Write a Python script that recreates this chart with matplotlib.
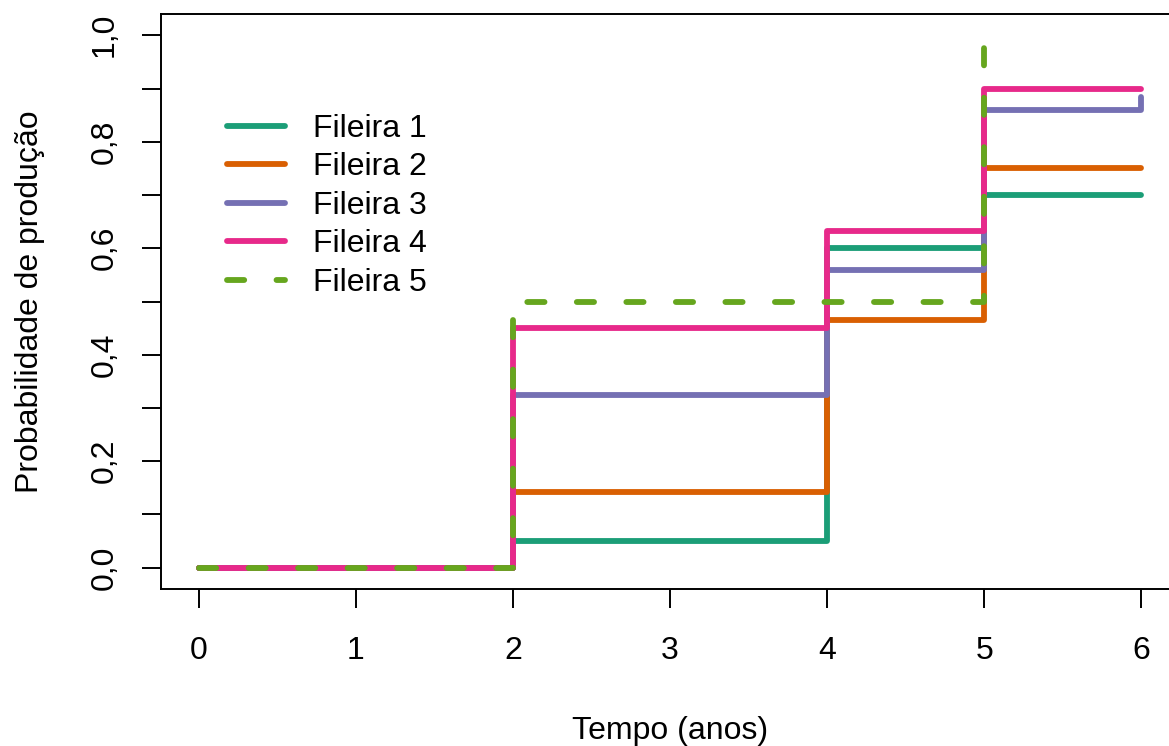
import matplotlib
matplotlib.use("Agg")
import matplotlib.pyplot as plt
from matplotlib.ticker import FixedLocator, FuncFormatter

plt.rcParams['font.family'] = ['Liberation Sans', 'DejaVu Sans']

# Data
tempo = [0, 2, 4, 5, 6]
fileira1 = [0.0, 0.05, 0.60, 0.70, 0.70]
fileira2 = [0.0, 0.143, 0.465, 0.75, 0.75]
fileira3 = [0.0, 0.325, 0.56, 0.86, 0.885]
fileira4 = [0.0, 0.45, 0.633, 0.90, 0.90]
tempo5 = [0, 2, 4, 5]
fileira5 = [0.0, 0.50, 0.50, 1.0]

labels = ["Fileira 1", "Fileira 2", "Fileira 3", "Fileira 4", "Fileira 5"]
colors = ["#1B9E77", "#D95F02", "#7570B3", "#E7298A", "#66A61E"]

W, H = 1169, 746
fig = plt.figure(figsize=(W / 100, H / 100), dpi=100)
ax = fig.add_axes([161 / W, 1 - 589 / H, (1179 - 161) / W, (589 - 14) / H])

fs = 23
lw = 4.2
series = [(tempo, fileira1), (tempo, fileira2), (tempo, fileira3), (tempo, fileira4)]
for (xs, ys), lab, c in zip(series, labels[:4], colors[:4]):
    ax.plot(xs, ys, drawstyle='steps-post', color=c, lw=lw, label=lab,
            solid_capstyle='round', solid_joinstyle='round', clip_on=False)
ax.plot(tempo5, fileira5, drawstyle='steps-post', color=colors[4], lw=lw,
        label=labels[4], linestyle=(0, (2.95, 5.54)), dash_capstyle='round',
        dash_joinstyle='round', clip_on=False)

ax.set_xlim(-0.24, 6.24)
ax.set_ylim(-0.04, 1.04)

ax.set_xticks([0, 1, 2, 3, 4, 5, 6])
yt = [0.0, 0.1, 0.2, 0.3, 0.4, 0.5, 0.6, 0.7, 0.8, 0.9, 1.0]
ax.yaxis.set_major_locator(FixedLocator(yt))
ax.yaxis.set_major_formatter(FuncFormatter(
    lambda v, p: ("%.1f" % v).replace('.', ',') if round(v * 10) % 2 == 0 else ""))

for s in ax.spines.values():
    s.set_linewidth(1.4)
ax.tick_params(axis='both', direction='out', length=13.7, width=1.4,
               labelsize=fs, color='black')
ax.tick_params(axis='x', pad=20)
ax.tick_params(axis='y', pad=16)
for t in ax.get_yticklabels():
    t.set_rotation(90)
    t.set_va('center')

ax.set_xlabel("Tempo (anos)", fontsize=fs, labelpad=36)
ax.set_ylabel("Probabilidade de produção", fontsize=fs, labelpad=32)

leg = ax.legend(loc='upper left', bbox_to_anchor=(227 / W, 1 - 114 / H),
                bbox_transform=fig.transFigure, frameon=False, fontsize=fs,
                handlelength=1.8, handletextpad=0.88, labelspacing=0.265,
                borderpad=0, borderaxespad=0)

fig.savefig("out.png", dpi=100)
